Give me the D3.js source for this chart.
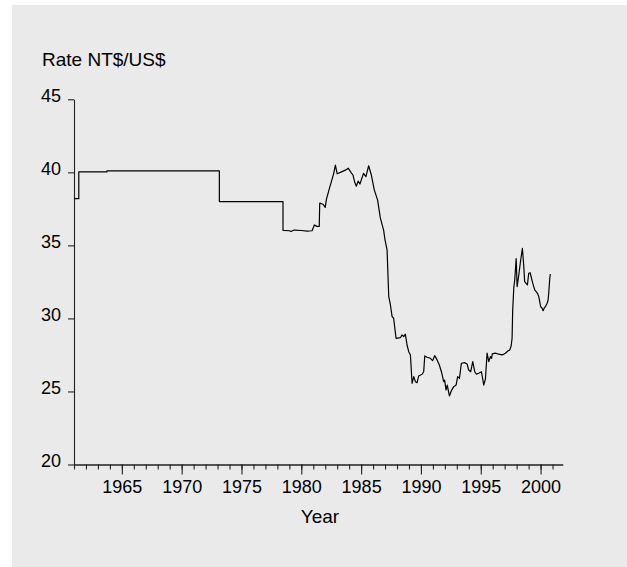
<!DOCTYPE html>
<html>
<head>
<meta charset="utf-8">
<script src="https://cdn.jsdelivr.net/npm/d3@7"></script>
<style>
  html, body { margin: 0; padding: 0; background: #ffffff; }
  svg { display: block; }
  text { font-family: "Liberation Sans", Arial, Helvetica, sans-serif; fill: #000; }
</style>
</head>
<body>
<svg id="chart" width="627" height="567"></svg>
<script>
// Taiwan exchange rate, NT$ per US$, 1961–2000
const years = [
  1961.00, 1961.40, 1961.40, 1963.75, 1963.75, 1973.15, 1973.15, 1978.47, 1978.47,
  1979.00, 1979.14, 1979.40, 1980.00, 1980.50, 1980.90, 1981.09, 1981.30, 1981.50,
  1981.54, 1981.84, 1982.00, 1982.10, 1982.35, 1982.70, 1982.85, 1983.00, 1983.27,
  1983.68, 1983.93, 1984.15, 1984.33, 1984.45, 1984.60, 1984.75, 1984.90, 1985.20,
  1985.40, 1985.63, 1985.86, 1986.10, 1986.38, 1986.60, 1986.88, 1987.00, 1987.17,
  1987.31, 1987.45, 1987.59, 1987.72, 1987.92, 1988.28, 1988.42, 1988.56, 1988.70,
  1988.84, 1988.98, 1989.12, 1989.26, 1989.40, 1989.54, 1989.68, 1989.81, 1990.10,
  1990.23, 1990.32, 1990.51, 1990.79, 1990.98, 1991.15, 1991.35, 1991.54, 1991.71,
  1991.90, 1991.98, 1992.10, 1992.20, 1992.38, 1992.55, 1992.74, 1992.94, 1993.07,
  1993.22, 1993.38, 1993.66, 1993.86, 1993.99, 1994.16, 1994.33, 1994.50, 1994.64,
  1994.83, 1995.06, 1995.25, 1995.39, 1995.53, 1995.67, 1995.81, 1995.90, 1995.97,
  1996.22, 1996.50, 1996.79, 1997.06, 1997.26, 1997.42, 1997.54, 1997.62, 1997.67,
  1997.76, 1997.84, 1997.96, 1998.04, 1998.18, 1998.32, 1998.48, 1998.59, 1998.67,
  1998.79, 1998.90, 1999.01, 1999.13, 1999.24, 1999.35, 1999.51, 1999.63, 1999.74,
  1999.85, 1999.93, 2000.01, 2000.13, 2000.21, 2000.30, 2000.40, 2000.55, 2000.63,
  2000.68, 2000.77, 2000.82
];
const rates = [
  38.20, 38.20, 40.03, 40.03, 40.10, 40.10, 38.00, 38.00, 36.03,
  36.00, 35.95, 36.05, 36.02, 35.98, 36.00, 36.40, 36.30, 36.30,
  37.90, 37.80, 37.60, 38.15, 38.90, 39.90, 40.50, 39.90, 40.00,
  40.15, 40.28, 40.00, 39.80, 39.36, 39.05, 39.40, 39.20, 39.93,
  39.70, 40.45, 39.80, 38.80, 38.10, 36.90, 36.05, 35.37, 34.68,
  31.49, 30.92, 30.12, 30.01, 28.64, 28.68, 28.87, 28.75, 28.92,
  28.18, 27.72, 27.50, 25.56, 26.01, 25.67, 25.60, 26.06, 26.18,
  26.35, 27.43, 27.34, 27.27, 27.11, 27.45, 27.16, 26.81, 26.35,
  25.67, 25.78, 25.10, 25.44, 24.69, 25.06, 25.33, 25.44, 26.01,
  25.90, 26.93, 26.97, 26.88, 26.47, 26.35, 27.04, 26.35, 26.18,
  26.25, 26.35, 25.44, 25.84, 27.62, 27.04, 27.38, 27.27, 27.57,
  27.62, 27.55, 27.50, 27.62, 27.77, 27.84, 28.11, 28.64, 30.58,
  32.07, 32.63, 34.10, 32.18, 32.97, 33.88, 34.80, 33.66, 32.52,
  32.40, 32.29, 33.09, 33.13, 32.75, 32.40, 31.95, 31.83, 31.72,
  31.49, 31.15, 30.80, 30.70, 30.53, 30.70, 30.80, 31.04, 31.26,
  31.72, 32.75, 33.04
];

const yTicks = [20, 25, 30, 35, 40, 45];
const xMajorTicks = [1965, 1970, 1975, 1980, 1985, 1990, 1995, 2000];
const xMinorTicks = d3.range(1961, 2002);
const yTitle = "Rate NT$/US$";
const xTitle = "Year";

const svg = d3.select("#chart");

// panel background
svg.append("rect")
  .attr("x", 12).attr("y", 5)
  .attr("width", 615).attr("height", 562)
  .attr("fill", "#eaeaea");

const x = d3.scaleLinear().domain([1961, 2001.85]).range([74, 562.7]);
const y = d3.scaleLinear().domain([20, 45]).range([464.5, 99.3]);

const fontSize = 18;
const titleSize = 19;

// y axis
const yAxis = svg.append("g")
  .attr("transform", `translate(${x(1961)},0)`)
  .call(d3.axisLeft(y).tickValues(yTicks).tickSize(6).tickSizeOuter(0).tickPadding(7));
yAxis.selectAll("text").attr("dy", "0.1em").style("font-size", fontSize + "px").attr("font-family", null);

// x axis: minor ticks every year
svg.append("g")
  .attr("transform", `translate(0,${y(20)})`)
  .call(d3.axisBottom(x).tickValues(xMinorTicks).tickSize(5).tickSizeOuter(0).tickFormat(""));

// x axis: major ticks with labels
const xAxis = svg.append("g")
  .attr("transform", `translate(0,${y(20)})`)
  .call(d3.axisBottom(x).tickValues(xMajorTicks).tickSize(10).tickSizeOuter(0).tickPadding(6).tickFormat(d3.format("d")));
xAxis.selectAll("text").style("font-size", fontSize + "px").attr("font-family", null);

svg.selectAll(".domain, .tick line").attr("stroke", "#222").attr("stroke-width", 1.1);

// titles
svg.append("text")
  .attr("x", 42).attr("y", 66)
  .style("font-size", titleSize + "px")
  .text(yTitle);

svg.append("text")
  .attr("x", 320).attr("y", 523)
  .attr("text-anchor", "middle")
  .style("font-size", titleSize + "px")
  .text(xTitle);

// series line
const series = years.map((yr, i) => ({ year: yr, rate: rates[i] }));
const line = d3.line().x(d => x(d.year)).y(d => y(d.rate));

svg.append("path")
  .datum(series)
  .attr("fill", "none")
  .attr("stroke", "#000")
  .attr("stroke-width", 1.2)
  .attr("stroke-linejoin", "round")
  .attr("d", line);
</script>
</body>
</html>
